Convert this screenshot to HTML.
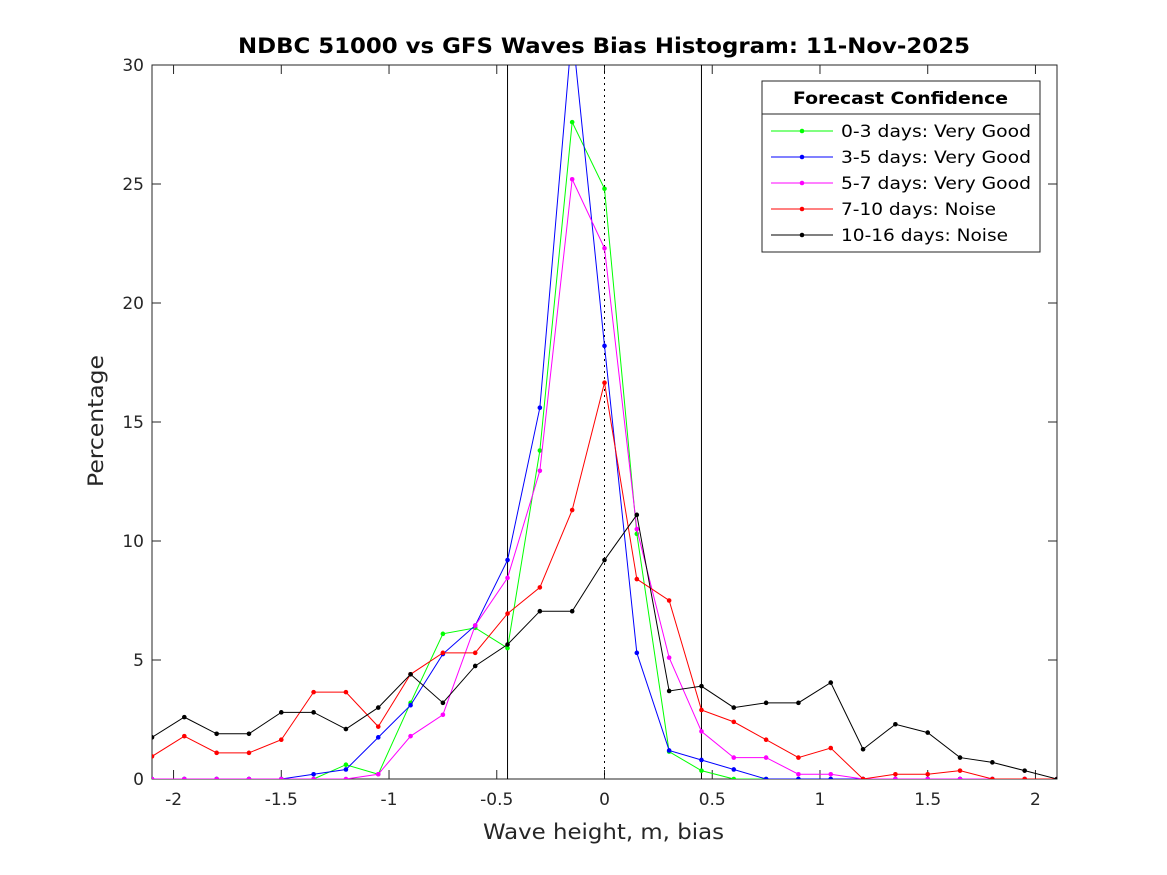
<!DOCTYPE html>
<html><head><meta charset="utf-8"><style>body{margin:0;background:#fff}svg{display:block;font-family:"DejaVu Sans","Liberation Sans",sans-serif}</style></head>
<body>
<svg id="chart" width="1167" height="875" viewBox="0 0 1167 875" xmlns="http://www.w3.org/2000/svg">
<rect width="1167" height="875" fill="#fff"/>
<defs><clipPath id="pc"><rect x="152" y="65" width="905" height="714"/></clipPath></defs>
<text x="238" y="53" textLength="732" lengthAdjust="spacingAndGlyphs" font-size="21" font-weight="bold" fill="#000">NDBC 51000 vs GFS Waves Bias Histogram: 11-Nov-2025</text>
<text x="483" y="839" textLength="241" lengthAdjust="spacingAndGlyphs" font-size="21" fill="#262626">Wave height, m, bias</text>
<text transform="translate(103,487) rotate(-90)" textLength="132" lengthAdjust="spacingAndGlyphs" font-size="21" fill="#262626">Percentage</text>
<g id="axes"></g>
<g id="series" clip-path="url(#pc)"></g>
<g id="legend"></g>
</svg>
<script>
const xValues=[-2.1,-1.95,-1.8,-1.65,-1.5,-1.35,-1.2,-1.05,-0.9,-0.75,-0.6,-0.45,-0.3,-0.15,0,0.15,0.3,0.45,0.6,0.75,0.9,1.05,1.2,1.35,1.5,1.65,1.8,1.95,2.1];
const green=[0,0,0,0,0,0,0.6,0.2,3.2,6.1,6.35,5.5,13.8,27.6,24.8,10.3,1.15,0.35,0,0,0,0,0,0,0,0,0,0,0];
const blue=[0,0,0,0,0,0.2,0.4,1.75,3.1,5.25,6.45,9.2,15.6,31.5,18.2,5.3,1.2,0.8,0.4,0,0,0,0,0,0,0,0,0,0];
const magenta=[0,0,0,0,0,0,0,0.2,1.8,2.7,6.45,8.45,12.95,25.2,22.3,10.5,5.1,2.0,0.9,0.9,0.2,0.2,0,0,0,0,0,0,0];
const red=[0.95,1.8,1.1,1.1,1.65,3.65,3.65,2.2,4.4,5.3,5.3,6.95,8.05,11.3,16.65,8.4,7.5,2.9,2.4,1.65,0.9,1.3,0,0.2,0.2,0.35,0,0,0];
const black=[1.75,2.6,1.9,1.9,2.8,2.8,2.1,3.0,4.4,3.2,4.75,5.65,7.05,7.05,9.2,11.1,3.7,3.9,3.0,3.2,3.2,4.05,1.25,2.3,1.95,0.9,0.7,0.35,0];
const xTicks=[-2,-1.5,-1,-0.5,0,0.5,1,1.5,2];
const xTickLabels=["-2","-1.5","-1","-0.5","0","0.5","1","1.5","2"];
const yTicks=[0,5,10,15,20,25,30];
const seriesNames=["0-3 days: Very Good","3-5 days: Very Good","5-7 days: Very Good","7-10 days: Noise","10-16 days: Noise"];
const legendWidths=[190,190,190,155,167];
const refLines=[-0.45,0.45];

const NS="http://www.w3.org/2000/svg";
const L=152,R=1057,T=65,B=779;
const sx=v=>L+(v+2.1)/4.2*(R-L);
const sy=v=>B-v/30*(B-T);
function mk(tag,attrs,parent){const e=document.createElementNS(NS,tag);for(const k in attrs)e.setAttribute(k,attrs[k]);parent.appendChild(e);return e;}
const axes=document.getElementById('axes');
let f=mk('rect',{x:L,y:T,width:R-L,height:B-T,fill:'none',stroke:'#262626','stroke-width':1},axes);


xTicks.forEach((t,i)=>{
 const x=sx(t);
 mk('line',{x1:x,x2:x,y1:B,y2:B-9,stroke:'#262626'},axes);
 mk('line',{x1:x,x2:x,y1:T,y2:T+9,stroke:'#262626'},axes);
 const tx=mk('text',{x:x,y:B+26,'text-anchor':'middle','font-size':17,fill:'#262626'},axes);
 tx.textContent=xTickLabels[i];
 
 
});
yTicks.forEach(t=>{
 const y=sy(t);
 mk('line',{x1:L,x2:L+9,y1:y,y2:y,stroke:'#262626'},axes);
 mk('line',{x1:R,x2:R-9,y1:y,y2:y,stroke:'#262626'},axes);
 const tx=mk('text',{x:L-8,y:y+6,'text-anchor':'end','font-size':17,fill:'#262626'},axes);
 tx.textContent=String(t);
 
 
});
refLines.forEach(v=>{
 const l=mk('line',{x1:sx(v),x2:sx(v),y1:T,y2:B,stroke:'#000','stroke-width':1},axes);
 
 
});
const z=mk('line',{x1:sx(0),x2:sx(0),y1:T,y2:B,stroke:'#000','stroke-width':1,'stroke-dasharray':'2,4'},axes);



const sg=document.getElementById('series');
const all=[[green,'#00ff00'],[blue,'#0000ff'],[magenta,'#ff00ff'],[red,'#ff0000'],[black,'#000000']];
all.forEach(([d,c],si)=>{
 const g=mk('g',{},sg);
 
 
 mk('polyline',{points:d.map((v,i)=>sx(xValues[i])+','+sy(v)).join(' '),fill:'none',stroke:c,'stroke-width':1},g);
 d.forEach((v,i)=>{
  const p=mk('circle',{cx:sx(xValues[i]),cy:sy(v),r:2.3,fill:c},g);
  
  
 });
});

const lg=document.getElementById('legend');


mk('rect',{x:762,y:81,width:278,height:171,fill:'#fff',stroke:'#262626'},lg);
mk('line',{x1:762,x2:1040,y1:114,y2:114,stroke:'#262626'},lg);
const lt=mk('text',{x:793,y:104,textLength:215,lengthAdjust:'spacingAndGlyphs','font-size':17,'font-weight':'bold',fill:'#000'},lg);
lt.textContent='Forecast Confidence';
seriesNames.forEach((n,i)=>{
 const y=131+i*26;
 const c=all[i][1];
 const e=mk('g',{},lg);
 
 
 mk('line',{x1:771,x2:833,y1:y,y2:y,stroke:c},e);
 mk('circle',{cx:802,cy:y,r:2.3,fill:c},e);
 const t=mk('text',{x:841,y:y+6,textLength:legendWidths[i],lengthAdjust:'spacingAndGlyphs','font-size':17,fill:'#000'},e);
 t.textContent=n;
});
</script>
</body></html>
